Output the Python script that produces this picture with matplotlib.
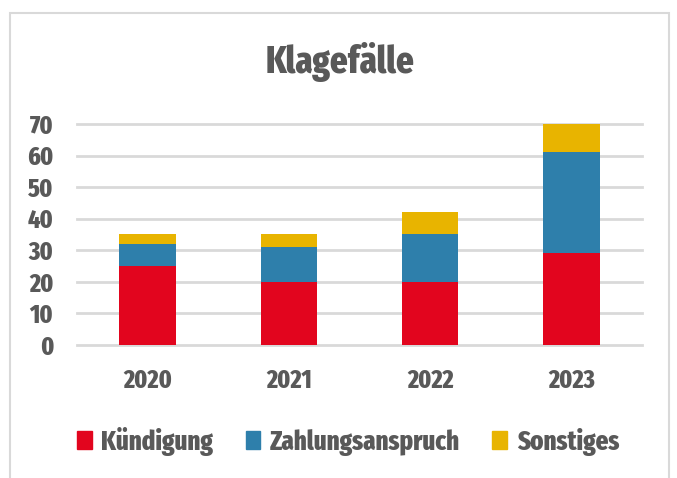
import matplotlib
matplotlib.use("Agg")
import matplotlib.pyplot as plt
from matplotlib.patches import Rectangle, Patch

plt.rcParams['font.family'] = ['Fira Sans Extra Condensed', 'DejaVu Sans']
plt.rcParams['font.weight'] = 800

# Daten
years = ["2020", "2021", "2022", "2023"]
kuendigung = [25, 20, 20, 29]
zahlungsanspruch = [7, 11, 15, 32]
sonstiges = [3, 4, 7, 9]
series_names = ["Kündigung", "Zahlungsanspruch", "Sonstiges"]
yticks = [0, 10, 20, 30, 40, 50, 60, 70]

colors = ['#E2051E', '#2E7FAB', '#E8B400']
text_col = '#595959'
grid_col = '#D9D9D9'

W, H = 677, 478
fig = plt.figure(figsize=(W / 100, H / 100), dpi=100)

# Rahmen um das Diagramm
fig.patches.append(Rectangle((10 / W, -0.05), 659 / W, 1.05 - 13 / H,
                             transform=fig.transFigure, fill=False,
                             edgecolor=grid_col, linewidth=1.5))

ax = fig.add_axes([77 / W, 1 - 345 / H, (642 - 77) / W, (345 - 124) / H])
x = list(range(len(years)))
bottom2 = [a + b for a, b in zip(kuendigung, zahlungsanspruch)]
ax.bar(x, kuendigung, width=0.4, color=colors[0], zorder=3)
ax.bar(x, zahlungsanspruch, width=0.4, bottom=kuendigung, color=colors[1], zorder=3)
ax.bar(x, sonstiges, width=0.4, bottom=bottom2, color=colors[2], zorder=3)

ax.set_xlim(-0.5, 3.5)
ax.set_ylim(0, 70)
ax.set_yticks(yticks)
for t in yticks:
    ax.axhline(t, color=grid_col, linewidth=2, zorder=1, clip_on=False)
for s in ax.spines.values():
    s.set_visible(False)
ax.tick_params(length=0, labelsize=18.5, labelcolor=text_col)
ax.tick_params(axis='y', pad=17)
ax.tick_params(axis='x', pad=17)
ax.set_xticks(x)
ax.set_xticklabels(years)
for lab in ax.get_xticklabels() + ax.get_yticklabels():
    lab.set_fontweight(800)

fig.text(340 / W, 1 - 73 / H, "Klagefälle", ha='center', va='baseline',
         fontsize=27, fontweight=800, color=text_col)

handles = [Patch(color=c, label=n) for c, n in zip(colors, series_names)]
leg = fig.legend(handles=handles, loc='center', bbox_to_anchor=(348 / W, 1 - 441 / H),
                 ncol=3, frameon=False, fontsize=19.5, labelcolor=text_col,
                 handlelength=0.55, handleheight=0.6, handletextpad=0.35,
                 columnspacing=1.2)
for t in leg.get_texts():
    t.set_fontweight(800)

fig.savefig("out.png", dpi=100)
